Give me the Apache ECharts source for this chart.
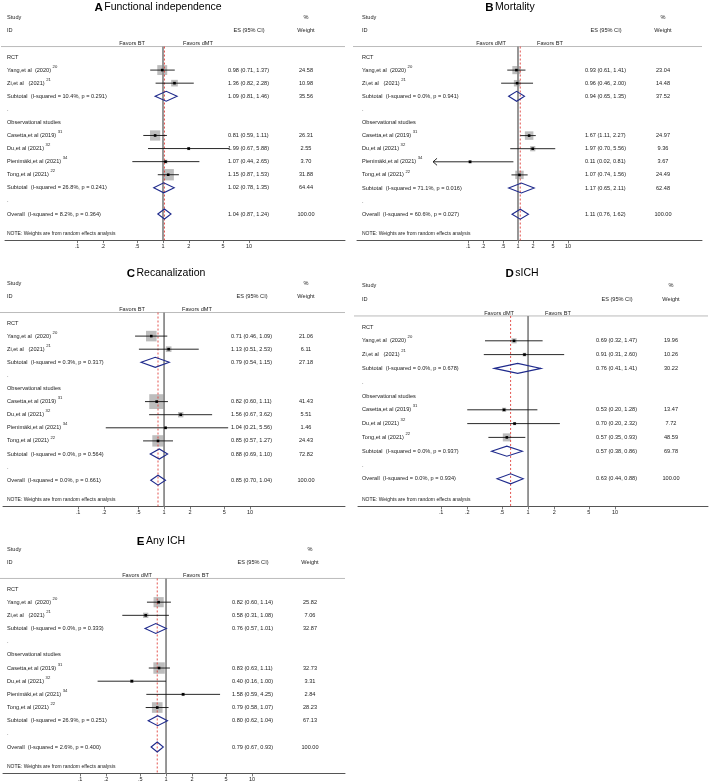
<!DOCTYPE html>
<html><head><meta charset="utf-8">
<script src="https://cdn.jsdelivr.net/npm/echarts@6/dist/echarts.min.js"></script>
<style>html,body{margin:0;padding:0;background:#fff}#c{width:709px;height:784px}</style>
</head><body><div id="c"></div><script>
// ---------------- DATA ----------------
const tickValues = [0.1, 0.2, 0.5, 1, 2, 5, 10];
const tickLabels = ['.1', '.2', '.5', '1', '2', '5', '10'];

const studyNames  = ['Yang,et al  (2020)', 'Zi,et al   (2021)', 'Casetta,et al (2019)', 'Du,et al (2021)', 'Pienimäki,et al (2021)', 'Tong,et al (2021)'];
const studyRefs   = ['20', '21', '31', '32', '34', '22'];
const studyDesign = ['RCT', 'RCT', 'Obs', 'Obs', 'Obs', 'Obs'];

// A Functional independence
const aStudies = [0, 1, 2, 3, 4, 5];
const aES = [0.98, 1.36, 0.81, 1.99, 1.07, 1.15];
const aLo = [0.71, 0.82, 0.59, 0.67, 0.44, 0.87];
const aHi = [1.37, 2.28, 1.11, 5.88, 2.65, 1.53];
const aWt = [24.58, 10.98, 26.31, 2.55, 3.70, 31.88];
const aPoolES = [1.09, 1.02, 1.04];   // RCT subtotal, Obs subtotal, Overall
const aPoolLo = [0.81, 0.78, 0.87];
const aPoolHi = [1.46, 1.35, 1.24];
const aPoolWt = [35.56, 64.44, 100.00];
const aI2 = ['10.4%', '26.8%', '8.2%'];
const aP  = ['0.291', '0.241', '0.364'];

// B Mortality
const bStudies = [0, 1, 2, 3, 4, 5];
const bES = [0.93, 0.96, 1.67, 1.97, 0.11, 1.07];
const bLo = [0.61, 0.46, 1.11, 0.70, 0.02, 0.74];
const bHi = [1.41, 2.00, 2.27, 5.56, 0.81, 1.56];
const bWt = [23.04, 14.48, 24.97, 9.36, 3.67, 24.49];
const bTrunc = [0, 0, 0, 0, 1, 0];     // CI lower end drawn as arrow
const bPoolES = [0.94, 1.17, 1.11];
const bPoolLo = [0.65, 0.65, 0.76];
const bPoolHi = [1.35, 2.11, 1.62];
const bPoolWt = [37.52, 62.48, 100.00];
const bI2 = ['0.0%', '71.1%', '60.6%'];
const bP  = ['0.941', '0.016', '0.027'];

// C Recanalization
const cStudies = [0, 1, 2, 3, 4, 5];
const cES = [0.71, 1.13, 0.82, 1.56, 1.04, 0.85];
const cLo = [0.46, 0.51, 0.60, 0.67, 0.21, 0.57];
const cHi = [1.09, 2.53, 1.11, 3.62, 5.56, 1.27];
const cWt = [21.06, 6.11, 41.43, 5.51, 1.46, 24.43];
const cPoolES = [0.79, 0.88, 0.85];
const cPoolLo = [0.54, 0.69, 0.70];
const cPoolHi = [1.15, 1.10, 1.04];
const cPoolWt = [27.18, 72.82, 100.00];
const cI2 = ['0.3%', '0.0%', '0.0%'];
const cP  = ['0.317', '0.564', '0.661'];

// D sICH
const dStudies = [0, 1, 2, 3, 5];
const dES = [0.69, 0.91, 0.53, 0.70, 0.57];
const dLo = [0.32, 0.31, 0.20, 0.20, 0.35];
const dHi = [1.47, 2.60, 1.28, 2.32, 0.93];
const dWt = [19.96, 10.26, 13.47, 7.72, 48.59];
const dPoolES = [0.76, 0.57, 0.63];
const dPoolLo = [0.41, 0.38, 0.44];
const dPoolHi = [1.41, 0.86, 0.88];
const dPoolWt = [30.22, 69.78, 100.00];
const dI2 = ['0.0%', '0.0%', '0.0%'];
const dP  = ['0.678', '0.937', '0.934'];

// E Any ICH
const eStudies = [0, 1, 2, 3, 4, 5];
const eES = [0.82, 0.58, 0.83, 0.40, 1.58, 0.79];
const eLo = [0.60, 0.31, 0.63, 0.16, 0.59, 0.58];
const eHi = [1.14, 1.08, 1.11, 1.00, 4.25, 1.07];
const eWt = [25.82, 7.06, 32.73, 3.31, 2.84, 28.23];
const ePoolES = [0.76, 0.80, 0.79];
const ePoolLo = [0.57, 0.62, 0.67];
const ePoolHi = [1.01, 1.04, 0.93];
const ePoolWt = [32.87, 67.13, 100.00];
const eI2 = ['0.0%', '26.9%', '2.6%'];
const eP  = ['0.333', '0.251', '0.400'];

const panelLetters = ['A', 'B', 'C', 'D', 'E'];
const panelTitles  = ['Functional independence', 'Mortality', 'Recanalization', 'sICH', 'Any ICH'];
const favorsLeft   = ['Favors BT', 'Favors dMT', 'Favors BT', 'Favors dMT', 'Favors dMT'];
const favorsRight  = ['Favors dMT', 'Favors BT', 'Favors dMT', 'Favors BT', 'Favors BT'];

// ---------------- LAYOUT / STYLE ----------------
const FONT = '"Liberation Sans", Arial, Helvetica, sans-serif';
const TXT = '#222';
const layouts = [
  {left: 5,   width: 340, firstY: 57,  dy: 13.08, xMin: 0.01455, xMax: 130.7, boxK: 2.0,  titleRow: -3.78, col: {study: 2, es: 223, wt: 301, favL: 140, favR: 178, title: 153}},
  {left: 357, width: 345, firstY: 57,  dy: 13.1,  xMin: 6.03e-4, xMax: 4786,  boxK: 1.7,  titleRow: -3.78, col: {study: 5, es: 228, wt: 306, favL: 149, favR: 180, title: 153}},
  {left: 3,   width: 342, firstY: 323, dy: 13.1,  xMin: 0.0134,  xMax: 127,   boxK: 2.3,  titleRow: -3.78, col: {study: 4, es: 228, wt: 303, favL: 142, favR: 179, title: 163}},
  {left: 358, width: 350, firstY: 327, dy: 13.8,  xMin: 0.0111,  xMax: 117,   boxK: 1.15, titleRow: -3.87, col: {study: 4, es: 238, wt: 313, favL: 156, favR: 187, title: 164}},
  {left: 3,   width: 342, firstY: 589, dy: 13.17, xMin: 0.0127,  xMax: 120.6, boxK: 2.0,  titleRow: -3.6,  col: {study: 4, es: 229, wt: 307, favL: 149, favR: 180, title: 158}}
];

const panelData = [
  {studies: aStudies, es: aES, lo: aLo, hi: aHi, wt: aWt, trunc: null,   pes: aPoolES, plo: aPoolLo, phi: aPoolHi, pwt: aPoolWt, i2: aI2, p: aP},
  {studies: bStudies, es: bES, lo: bLo, hi: bHi, wt: bWt, trunc: bTrunc, pes: bPoolES, plo: bPoolLo, phi: bPoolHi, pwt: bPoolWt, i2: bI2, p: bP},
  {studies: cStudies, es: cES, lo: cLo, hi: cHi, wt: cWt, trunc: null,   pes: cPoolES, plo: cPoolLo, phi: cPoolHi, pwt: cPoolWt, i2: cI2, p: cP},
  {studies: dStudies, es: dES, lo: dLo, hi: dHi, wt: dWt, trunc: null,   pes: dPoolES, plo: dPoolLo, phi: dPoolHi, pwt: dPoolWt, i2: dI2, p: dP},
  {studies: eStudies, es: eES, lo: eLo, hi: eHi, wt: eWt, trunc: null,   pes: ePoolES, plo: ePoolLo, phi: ePoolHi, pwt: ePoolWt, i2: eI2, p: eP}
];

function buildRows(D) {
  const rows = [];
  let r = 0;
  const addStudies = (design) => {
    D.studies.forEach((si, k) => {
      if (studyDesign[si] !== design) return;
      rows.push({r: r++, kind: 'study', name: studyNames[si], ref: studyRefs[si],
        es: D.es[k], lo: D.lo[k], hi: D.hi[k], wt: D.wt[k], trunc: D.trunc ? D.trunc[k] : 0});
    });
  };
  const addPool = (j, label) => rows.push({r: r++, kind: 'pool',
    name: label + '  (I-squared = ' + D.i2[j] + ', p = ' + D.p[j] + ')',
    es: D.pes[j], lo: D.plo[j], hi: D.phi[j], wt: D.pwt[j], trunc: 0});
  rows.push({r: r++, kind: 'head', name: 'RCT'});
  addStudies('RCT');
  addPool(0, 'Subtotal');
  rows.push({r: r++, kind: 'dot', name: '.'});
  rows.push({r: r++, kind: 'head', name: 'Observational studies'});
  addStudies('Obs');
  addPool(1, 'Subtotal');
  rows.push({r: r++, kind: 'dot', name: '.'});
  addPool(2, 'Overall');
  return rows;
}

function tickLabelFor(v) {
  for (let i = 0; i < tickValues.length; i++) {
    if (Math.abs(v - tickValues[i]) / tickValues[i] < 1e-6) return tickLabels[i];
  }
  return '';
}

const HEAD_ROW = -0.8;
const option = {animation: false, backgroundColor: '#fff', grid: [], xAxis: [], yAxis: [], series: []};

panelData.forEach((D, i) => {
  const L = layouts[i];
  const rows = buildRows(D);
  const lastRow = rows[rows.length - 1].r;
  const yMin = -3.5, yMax = lastRow + 2;
  const logAx = 2 * i, txtAx = 2 * i + 1;

  option.grid.push({left: L.left, width: L.width, top: L.firstY + yMin * L.dy, height: (yMax - yMin) * L.dy, containLabel: false});
  option.xAxis.push({
    type: 'log', logBase: 10, gridIndex: i, min: L.xMin, max: L.xMax, position: 'bottom',
    axisLine: {show: true, onZero: false, lineStyle: {color: '#555', width: 1}},
    axisTick: {show: true, length: 3, customValues: tickValues, lineStyle: {color: '#555', width: 0.8}},
    axisLabel: {show: true, customValues: tickValues, fontSize: 5.5, color: TXT, margin: 3, fontFamily: FONT, formatter: tickLabelFor},
    splitLine: {show: false}, minorTick: {show: false}
  });
  option.xAxis.push({type: 'value', gridIndex: i, min: 0, max: L.width, show: false});
  option.yAxis.push({type: 'value', gridIndex: i, min: yMin, max: yMax, inverse: true, show: false});

  const markData = rows.filter(r => r.kind === 'study' || r.kind === 'pool')
    .map(r => [r.es, r.lo, r.hi, r.r, r.wt, r.kind === 'pool' ? 1 : 0, r.trunc]);

  // header rule
  option.series.push({
    type: 'custom', xAxisIndex: txtAx, yAxisIndex: i, silent: true, data: [[0, HEAD_ROW]],
    renderItem: (params, api) => {
      const y = api.coord([0, api.value(1)])[1];
      const cs = params.coordSys;
      return {type: 'line', shape: {x1: cs.x - 4, y1: y, x2: cs.x + cs.width, y2: y}, style: {stroke: '#aaa', lineWidth: 0.8}};
    }
  });

  // weight boxes
  option.series.push({
    type: 'custom', xAxisIndex: logAx, yAxisIndex: i, silent: true, data: markData, clip: false,
    renderItem: (params, api) => {
      if (api.value(5) === 1) return null;
      const c = api.coord([api.value(0), api.value(3)]);
      const s = L.boxK * Math.sqrt(api.value(4));
      return {type: 'rect', shape: {x: c[0] - s / 2, y: c[1] - s / 2, width: s, height: s}, style: {fill: '#bdbdbd'}};
    }
  });

  // reference lines: null (1) and overall estimate
  option.series.push({
    type: 'custom', xAxisIndex: logAx, yAxisIndex: i, silent: true, clip: false,
    data: [[1, 0], [D.pes[2], 1]],
    renderItem: (params, api) => {
      const x = api.coord([api.value(0), 0])[0];
      const yTop = api.coord([1, HEAD_ROW])[1];
      const yBot = params.coordSys.y + params.coordSys.height;
      if (api.value(1) === 0) {
        return {type: 'line', shape: {x1: x, y1: yTop, x2: x, y2: yBot}, style: {stroke: '#8c8c8c', lineWidth: 1.8}};
      }
      return {type: 'line', shape: {x1: x, y1: yTop, x2: x, y2: yBot}, style: {stroke: '#e0403a', lineWidth: 0.9, lineDash: [2, 2]}};
    }
  });

  // CI lines, point estimates, diamonds
  option.series.push({
    type: 'custom', xAxisIndex: logAx, yAxisIndex: i, silent: true, data: markData, clip: false,
    renderItem: (params, api) => {
      const row = api.value(3);
      const c = api.coord([api.value(0), row]);
      const pl = api.coord([api.value(1), row]);
      const ph = api.coord([api.value(2), row]);
      if (api.value(5) === 1) {
        const h = 5;
        return {type: 'polygon', shape: {points: [[pl[0], c[1]], [c[0], c[1] - h], [ph[0], c[1]], [c[0], c[1] + h]]},
          style: {fill: 'none', stroke: '#1f2a8c', lineWidth: 1.1}};
      }
      const ch = [
        {type: 'line', shape: {x1: pl[0], y1: c[1], x2: ph[0], y2: c[1]}, style: {stroke: '#111', lineWidth: 0.9}},
        {type: 'rect', shape: {x: c[0] - 1.3, y: c[1] - 1.3, width: 2.6, height: 2.6}, style: {fill: '#000'}}
      ];
      if (api.value(6) === 1) {
        ch.push({type: 'polyline', shape: {points: [[pl[0] + 4, c[1] - 3.5], [pl[0], c[1]], [pl[0] + 4, c[1] + 3.5]]},
          style: {stroke: '#111', lineWidth: 0.9, fill: 'none'}});
      }
      return {type: 'group', children: ch};
    }
  });

  // texts
  const C = L.col;
  const items = [];
  const T = (x, r, text, align, extra) => items.push(Object.assign({value: [x, r], text: text, align: align}, extra || {}));
  T(C.title, L.titleRow, '{b|' + panelLetters[i] + '} {t|' + panelTitles[i] + '}', 'center', {rich: 'title'});
  T(C.study, -3, 'Study', 'left');
  T(C.wt, -3, '%', 'center');
  T(C.study, -2, 'ID', 'left');
  T(C.es + 21, -2, 'ES (95% CI)', 'center');
  T(C.wt, -2, 'Weight', 'center');
  T(C.favL, -1, favorsLeft[i], 'right');
  T(C.favR, -1, favorsRight[i], 'left');
  rows.forEach(r => {
    if (r.kind === 'study') {
      T(C.study, r.r, '{n|' + r.name + '} {s|' + r.ref + '}', 'left', {rich: 'sup'});
    } else {
      T(C.study, r.r, r.name, 'left');
    }
    if (r.kind === 'study' || r.kind === 'pool') {
      T(C.es, r.r, r.es.toFixed(2) + ' (' + r.lo.toFixed(2) + ', ' + r.hi.toFixed(2) + ')', 'left');
      T(C.wt, r.r, r.wt.toFixed(2), 'center');
    }
  });
  T(C.study, lastRow + 1.5, 'NOTE: Weights are from random effects analysis', 'left', {size: 5});

  option.series.push({
    type: 'custom', xAxisIndex: txtAx, yAxisIndex: i, silent: true, clip: false,
    data: items.map(it => it.value),
    renderItem: (params, api) => {
      const it = items[params.dataIndex];
      const p = api.coord([api.value(0), api.value(1)]);
      const style = {text: it.text, x: 0, y: 0, fontSize: it.size || 5.6, fontFamily: FONT, fill: TXT, align: it.align, verticalAlign: 'middle'};
      if (it.rich === 'title') {
        style.rich = {
          b: {fontSize: 11.5, fontWeight: 'bold', fill: '#000', fontFamily: FONT},
          t: {fontSize: 10.5, fill: '#000', fontFamily: FONT}
        };
      } else if (it.rich === 'sup') {
        style.rich = {
          n: {fontSize: 5.6, lineHeight: 11, fill: TXT, fontFamily: FONT},
          s: {fontSize: 4.2, lineHeight: 5, verticalAlign: 'top', fill: TXT, fontFamily: FONT}
        };
      }
      return {type: 'text', x: p[0], y: p[1], style: style};
    }
  });
});

const chart = echarts.init(document.getElementById('c'), null, {renderer: 'canvas'});
chart.setOption(option);
</script></body></html>
